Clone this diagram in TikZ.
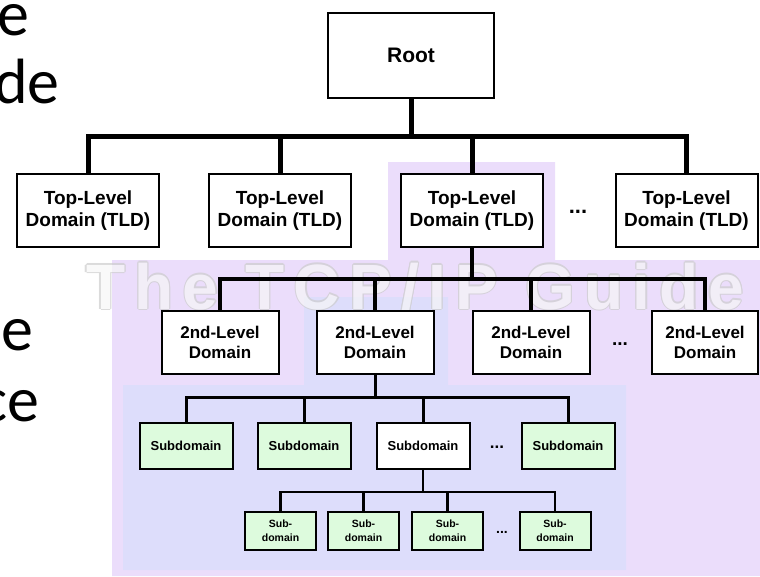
\documentclass[tikz,border=0pt]{standalone}
\usepackage{fontspec}
\setmainfont{Liberation Sans}
\newfontfamily\slidefont{Carlito}
\definecolor{purplebg}{RGB}{235,221,251}
\definecolor{bluebg}{RGB}{221,221,251}
\definecolor{greenbox}{RGB}{221,251,221}
\pgfdeclarelayer{bg}
\pgfdeclarelayer{lines}
\pgfsetlayers{bg,lines,main}
\begin{document}
\begin{tikzpicture}[x=1pt,y=-1pt,
  box/.style={draw, line width=2pt, fill=white, inner sep=0pt, align=center},
  rootbox/.style={box, minimum width=166pt, minimum height=85pt, font=\fontsize{21}{24}\selectfont\bfseries},
  tldbox/.style={box, minimum width=142pt, minimum height=73pt, font=\fontsize{19}{22}\selectfont\bfseries},
  sldbox/.style={box, minimum width=117pt, minimum height=63pt, font=\fontsize{17}{20}\selectfont\bfseries},
  subbox/.style={box, fill=greenbox, minimum width=93pt, minimum height=46pt, font=\fontsize{13}{15}\selectfont\bfseries},
  ssbox/.style={box, fill=greenbox, minimum width=71pt, minimum height=38pt, font=\fontsize{10.5}{14}\selectfont\bfseries},
  dots/.style={inner sep=0pt, font=\bfseries},
  slide/.style={inner sep=0pt, anchor=base east, font=\slidefont\fontsize{64}{64}\selectfont},
  wmtext/.style={inner sep=0pt, anchor=base west, font=\fontsize{64}{64}\selectfont\bfseries\addfontfeature{LetterSpace=14.5}},
  lvA/.style={line width=5pt},
  lvB/.style={line width=4pt},
  lvC/.style={line width=3pt},
  lvD/.style={line width=2.5pt}]
\useasboundingbox (0,0) rectangle (760,576);
\clip (0,0) rectangle (760,576);

% nodes
\node[rootbox] (root) at (411,55.5) {Root};
\node[tldbox] (t1) at (88,210.5) {Top-Level\\Domain (TLD)};
\node[tldbox] (t2) at (280,210.5) {Top-Level\\Domain (TLD)};
\node[tldbox] (t3) at (472,210.5) {Top-Level\\Domain (TLD)};
\node[tldbox] (t4) at (686.5,210.5) {Top-Level\\Domain (TLD)};
\node[dots, font=\fontsize{22}{22}\selectfont\bfseries] (d1) at (578,212) {...};

\node[sldbox] (l1) at (220,342.5) {2nd-Level\\Domain};
\node[sldbox] (l2) at (375,342.5) {2nd-Level\\Domain};
\node[sldbox] (l3) at (531,342.5) {2nd-Level\\Domain};
\node[sldbox, minimum width=106pt] (l4) at (705,342.5) {2nd-Level\\Domain};
\node[dots, font=\fontsize{19}{19}\selectfont\bfseries] (d2) at (620,344) {...};

\node[subbox] (s1) at (186,446) {Subdomain};
\node[subbox] (s2) at (304,446) {Subdomain};
\node[subbox, fill=white] (s3) at (423,446) {Subdomain};
\node[subbox] (s4) at (568,446) {Subdomain};
\node[dots, font=\fontsize{17}{17}\selectfont\bfseries] (d3) at (497,447) {...};

\node[ssbox] (b1) at (280.5,531) {Sub-\\domain};
\node[ssbox] (b2) at (363.5,531) {Sub-\\domain};
\node[ssbox] (b3) at (447.5,531) {Sub-\\domain};
\node[ssbox] (b4) at (555,531) {Sub-\\domain};
\node[dots, font=\fontsize{14}{14}\selectfont\bfseries] (d4) at (502,532) {...};

% slide text cut at the left edge
\node[slide] (w1) at (30,35) {e};
\node[slide] (w2) at (60,103) {de};
\node[slide] (w3) at (34,350) {e};
\node[slide] (w4) at (40,421) {ce};

\coordinate (bus1) at (413,136);
\coordinate (bus2) at (472,279);
\coordinate (bus3) at (376,397);
\coordinate (bus4) at (423,492);

\begin{pgfonlayer}{lines}
  \draw[lvA] (t1.north) -- (t1.north |- bus1) -- (t4.north |- bus1) -- (t4.north);
  \draw[lvA] (root.south) -- (root.south |- bus1);
  \draw[lvA] (t2.north) -- (t2.north |- bus1);
  \draw[lvA] (t3.north) -- (t3.north |- bus1);

  \draw[lvB] (l1.north) -- (l1.north |- bus2) -- (l4.north |- bus2) -- (l4.north);
  \draw[lvB] (t3.south) -- (t3.south |- bus2);
  \draw[lvB] (l2.north) -- (l2.north |- bus2);
  \draw[lvB] (l3.north) -- (l3.north |- bus2);

  \draw[lvC] (s1.north) -- (s1.north |- bus3) -- (s4.north |- bus3) -- (s4.north);
  \draw[lvC] (l2.south) -- (l2.south |- bus3);
  \draw[lvC] (s2.north) -- (s2.north |- bus3);
  \draw[lvC] (s3.north) -- (s3.north |- bus3);

  \draw[lvD] (b1.north) -- (b1.north |- bus4) -- (b4.north |- bus4) -- (b4.north);
  \draw[lvD] (s3.south) -- (s3.south |- bus4);
  \draw[lvD] (b2.north) -- (b2.north |- bus4);
  \draw[lvD] (b3.north) -- (b3.north |- bus4);
\end{pgfonlayer}

\begin{pgfonlayer}{bg}
  \fill[purplebg] (388,162) -- (555,162) -- (555,260) -- (760,260) -- (760,576)
     -- (112,576) -- (112,260) -- (388,260) -- cycle;
  \fill[bluebg] (304,297) -- (448,297) -- (448,385) -- (626,385) -- (626,570)
     -- (123,570) -- (123,385) -- (304,385) -- cycle;
  \begin{scope}[transparency group, opacity=0.7]
    \foreach \dx/\dy [count=\i] in {1.3/0,-1.3/0,0/1.3,0/-1.3,0.9/0.9,-0.9/0.9,0.9/-0.9,-0.9/-0.9}
      \node[wmtext, text=gray!40, xshift=\dx pt, yshift=\dy pt] (wmo\i) at (86,309) {The TCP/IP Guide};
    \node[wmtext, text=gray!7] (wm) at (86,309) {The TCP/IP Guide};
  \end{scope}
\end{pgfonlayer}
\end{tikzpicture}
\end{document}
